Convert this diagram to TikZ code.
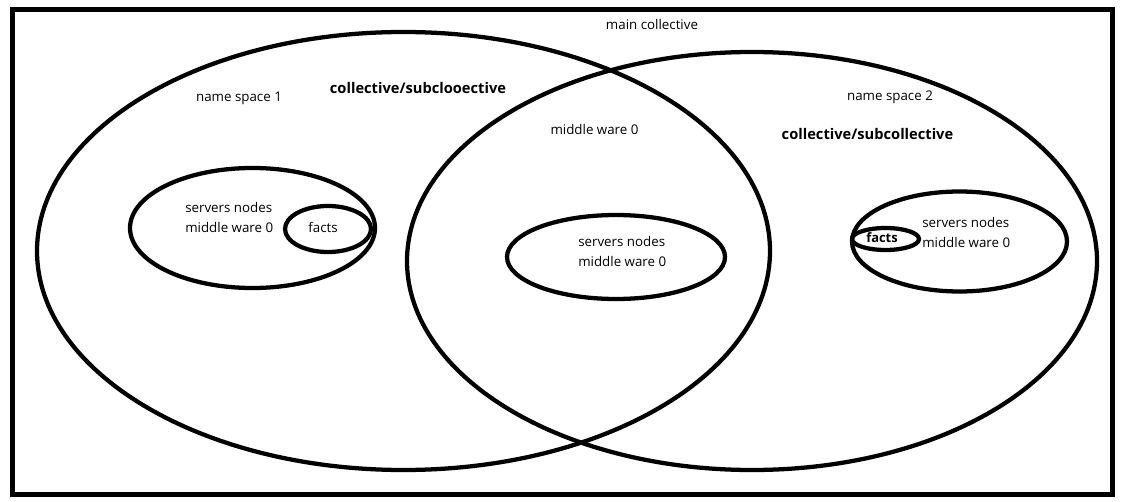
\documentclass[tikz,border=0pt]{standalone}
\usepackage{fontspec}
\setmainfont{Open Sans}
\usetikzlibrary{shapes.geometric}
\begin{document}
\begin{tikzpicture}[x=0.75pt,y=-0.75pt,
  oval/.style={draw=black,line width=3.2pt,shape=ellipse,inner sep=0pt},
  lbl/.style={font=\fontsize{10}{15}\selectfont,inner sep=0pt,align=left},
  blbl/.style={font=\fontsize{11}{15}\selectfont\bfseries,inner sep=0pt},
  fbl/.style={font=\fontsize{9.7}{15}\selectfont\bfseries,inner sep=0pt}]
\useasboundingbox (0,0) rectangle (1123,502);
\draw[line width=3.75pt] (12.5,9.5) rectangle (1112,494);
\node[oval,minimum width=549.75pt,minimum height=328.5pt] (ns1) at (403.5,251) {};
\node[oval,minimum width=517.5pt,minimum height=313.5pt] (ns2) at (752,261) {};
\node[oval,minimum width=183.75pt,minimum height=90pt] (s1) at (252.5,228) {};
\node[oval,minimum width=64.5pt,minimum height=34.5pt] (f1) at (328,229) {};
\node[oval,minimum width=163.5pt,minimum height=63pt] (mid) at (616,257) {};
\node[oval,minimum width=161.25pt,minimum height=75pt] (s2) at (959.5,241.5) {};
\node[oval,minimum width=50.25pt,minimum height=16.5pt] (f2) at (885.5,239) {};
\node[lbl] (tmain) at (652,25) {main collective};
\node[lbl] (tns1) at (239,98) {name space 1};
\node[blbl] (tc1) at (418,88) {collective/subclooective};
\node[lbl] (tmw) at (594.5,130) {middle ware 0};
\node[lbl] (tns2) at (890,97) {name space 2};
\node[blbl] (tc2) at (867.5,134) {collective/subcollective};
\node[lbl,anchor=west] (ts1) at (185,218) {servers nodes\\middle ware 0};
\node[lbl] (tf1) at (323,227) {facts};
\node[lbl,anchor=west] (tmid) at (578,251.5) {servers nodes\\middle ware 0};
\node[fbl] (tf2) at (882,238) {facts};
\node[lbl,anchor=west] (ts2) at (922,232.5) {servers nodes\\middle ware 0};
\end{tikzpicture}
\end{document}
